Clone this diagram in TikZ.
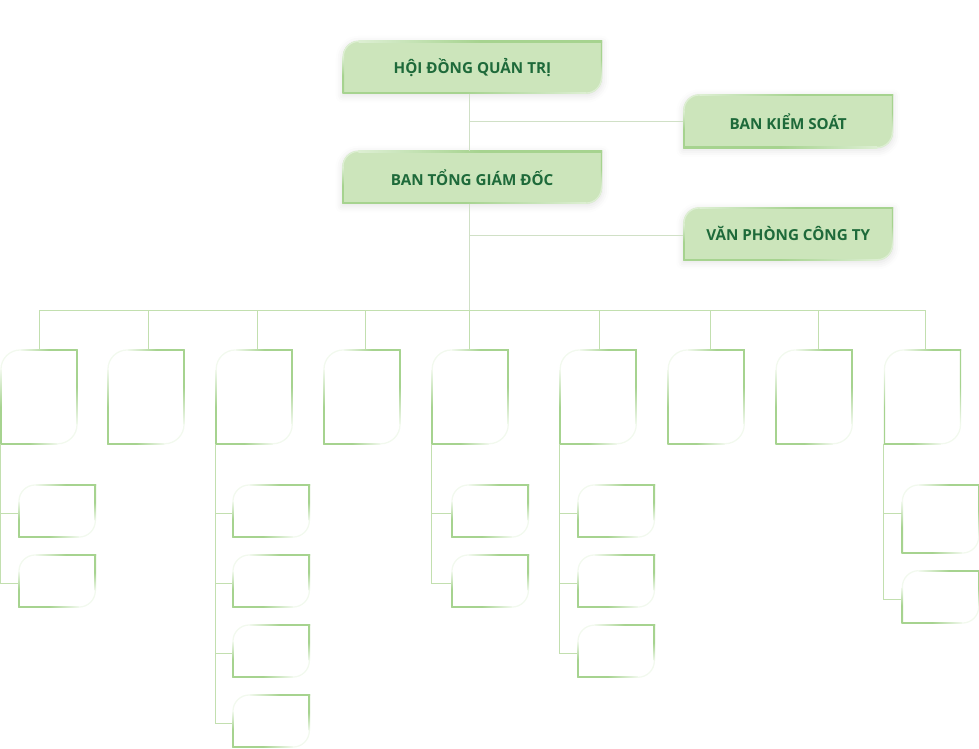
\documentclass[tikz,border=0pt]{standalone}
\usepackage{fontspec}
\setmainfont{Open Sans}
\usetikzlibrary{backgrounds,shadows.blur}
\definecolor{boxfill}{HTML}{CCE5BB}
\definecolor{boxline}{HTML}{A6D38F}
\definecolor{faintline}{HTML}{F2F9EE}
\definecolor{topfaint}{HTML}{DDEFD3}
\definecolor{txt}{HTML}{1E6A3A}
\definecolor{conn}{HTML}{C2DFAF}
\definecolor{trunk}{HTML}{D0E0C6}
\newdimen\leaflw \leaflw=1.3pt
% name, radius (pt number), faint colour
\newcommand\leafedge[3]{%
 \shade[left color=#3, right color=boxline, middle color=boxline] ([xshift=#2pt]#1.north west) rectangle ([yshift=-\leaflw]#1.north east);
 \shade[top color=boxline, bottom color=#3, middle color=boxline] (#1.north east) rectangle ([xshift=-\leaflw,yshift=#2pt]#1.south east);
 \shade[left color=boxline, right color=#3, middle color=boxline] (#1.south west) rectangle ([xshift=-#2pt,yshift=\leaflw]#1.south east);
 \shade[bottom color=boxline, top color=#3, middle color=boxline] (#1.south west) rectangle ([xshift=\leaflw,yshift=-#2pt]#1.north west);
 \draw[#3, line width=\leaflw] ([xshift=0.5\leaflw,yshift=-#2pt]#1.north west) arc[start angle=180,end angle=90,radius=#2pt-0.5\leaflw];
 \draw[#3, line width=\leaflw] ([xshift=-0.5\leaflw,yshift=#2pt]#1.south east) arc[start angle=0,end angle=-90,radius=#2pt-0.5\leaflw];
}
\newcommand\leaffill[2]{%
 \begin{scope}[on background layer]
 \fill[boxfill, blur shadow={shadow xshift=0pt, shadow yshift=-2pt, shadow blur radius=7pt, shadow opacity=12}]
   (#1.south west) -- ([yshift=-#2pt]#1.north west) arc[start angle=180,end angle=90,radius=#2pt]
   -- (#1.north east) -- ([yshift=#2pt]#1.south east) arc[start angle=0,end angle=-90,radius=#2pt] -- cycle;
 \end{scope}}
\tikzset{
  topbox/.style={rectangle, inner sep=0pt, anchor=north west, text=txt,
     font=\bfseries\fontsize{15.2}{17}\selectfont},
  colbox/.style={rectangle, inner sep=0pt, anchor=north west, minimum width=77pt, minimum height=94.7pt},
  subbox/.style={rectangle, inner sep=0pt, anchor=north west, minimum width=77.3pt, minimum height=53pt},
  connline/.style={draw=conn, line width=1pt},
  trunkline/.style={draw=trunk, line width=1pt},
}
\newcommand\toptext[1]{\raisebox{-2.5pt}{#1}}
\begin{document}
\begin{tikzpicture}[x=1pt,y=-1pt]
\useasboundingbox (0,0) rectangle (979,748);
% top boxes
\node[topbox, minimum width=259pt, minimum height=52.6pt] (hdqt) at (342.7,40.7) {\toptext{HỘI ĐỒNG QUẢN TRỊ}};
\node[topbox, minimum width=209.4pt, minimum height=53.4pt] (bks) at (683.3,94.3) {\toptext{BAN KIỂM SOÁT}};
\node[topbox, minimum width=259.4pt, minimum height=52.6pt] (btgd) at (342.3,150.7) {\toptext{BAN TỔNG GIÁM ĐỐC}};
\node[topbox, minimum width=209.4pt, minimum height=52.7pt] (vpct) at (683.3,207.3) {\toptext{VĂN PHÒNG CÔNG TY}};
\foreach \n/\r in {hdqt/16,bks/16,btgd/16,vpct/16}{\leaffill{\n}{\r}\leafedge{\n}{\r}{topfaint}}
% column boxes
\node[colbox] (c1) at (0.3,349.3) {};
\node[colbox] (c2) at (107.3,349.3) {};
\node[colbox] (c3) at (215.5,349.3) {};
\node[colbox] (c4) at (323.3,349.3) {};
\node[colbox] (c5) at (431.5,349.3) {};
\node[colbox] (c6) at (559.5,349.3) {};
\node[colbox] (c7) at (667.5,349.3) {};
\node[colbox] (c8) at (775.5,349.3) {};
\node[colbox] (c9) at (883.8,349.3) {};
% sub boxes
\node[subbox] (s11) at (18.3,484.3) {};
\node[subbox] (s12) at (18.3,554.3) {};
\node[subbox] (s31) at (232.3,484.3) {};
\node[subbox] (s32) at (232.3,554.3) {};
\node[subbox] (s33) at (232.3,624.3) {};
\node[subbox] (s34) at (232.3,694.3) {};
\node[subbox] (s51) at (451.3,484.3) {};
\node[subbox] (s52) at (451.3,554.3) {};
\node[subbox] (s61) at (577.3,484.3) {};
\node[subbox] (s62) at (577.3,554.3) {};
\node[subbox] (s63) at (577.3,624.5) {};
\node[subbox, minimum height=69pt] (s91) at (901.7,484.3) {};
\node[subbox, minimum height=53.3pt] (s92) at (901.7,570) {};
\foreach \n in {c1,c2,c3,c4,c5,c6,c7,c8,c9}{\leafedge{\n}{20}{faintline}}
\foreach \n in {s11,s12,s31,s32,s33,s34,s51,s52,s61,s62,s63,s91,s92}{\leafedge{\n}{17}{faintline}}
% bus coordinates
\coordinate (b1) at (39.3,310.3);
\coordinate (b2) at (148.3,310.3);
\coordinate (b3) at (257.2,310.3);
\coordinate (b4) at (365.2,310.3);
\coordinate (b5) at (469.3,310.3);
\coordinate (b6) at (599.4,310.3);
\coordinate (b7) at (710.4,310.3);
\coordinate (b8) at (818.4,310.3);
\coordinate (b9) at (925.7,310.3);
% trunk
\draw[trunkline] (hdqt.south -| b5) -- (btgd.north -| b5);
\draw[trunkline] (bks.west -| b5) -- (bks.west);
\draw[trunkline] (btgd.south -| b5) -- (b5);
\draw[trunkline] ([yshift=-1.5pt]vpct.west -| b5) -- ([yshift=-1.5pt]vpct.west);
% bus and drops
\draw[connline] (b1) -- (b9);
\foreach \i in {1,...,9}{\draw[connline] (b\i) -- (b\i |- c\i.north);}
% spines
\draw[connline] (c1.south west) |- ([yshift=-29pt]s12.north west);
\draw[connline] ([yshift=-29pt]s11.north west -| c1.south west) -- ([yshift=-29pt]s11.north west);
\draw[connline] (c3.south west) |- ([yshift=-29pt]s34.north west);
\foreach \n in {s31,s32,s33}{\draw[connline] ([yshift=-29pt]\n.north west -| c3.south west) -- ([yshift=-29pt]\n.north west);}
\draw[connline] (c5.south west) |- ([yshift=-29pt]s52.north west);
\draw[connline] ([yshift=-29pt]s51.north west -| c5.south west) -- ([yshift=-29pt]s51.north west);
\draw[connline] (c6.south west) |- ([yshift=-29pt]s63.north west);
\foreach \n in {s61,s62}{\draw[connline] ([yshift=-29pt]\n.north west -| c6.south west) -- ([yshift=-29pt]\n.north west);}
\draw[connline] (c9.south west) |- ([yshift=-29pt]s92.north west);
\draw[connline] ([yshift=-29pt]s91.north west -| c9.south west) -- ([yshift=-29pt]s91.north west);
\end{tikzpicture}
\end{document}
